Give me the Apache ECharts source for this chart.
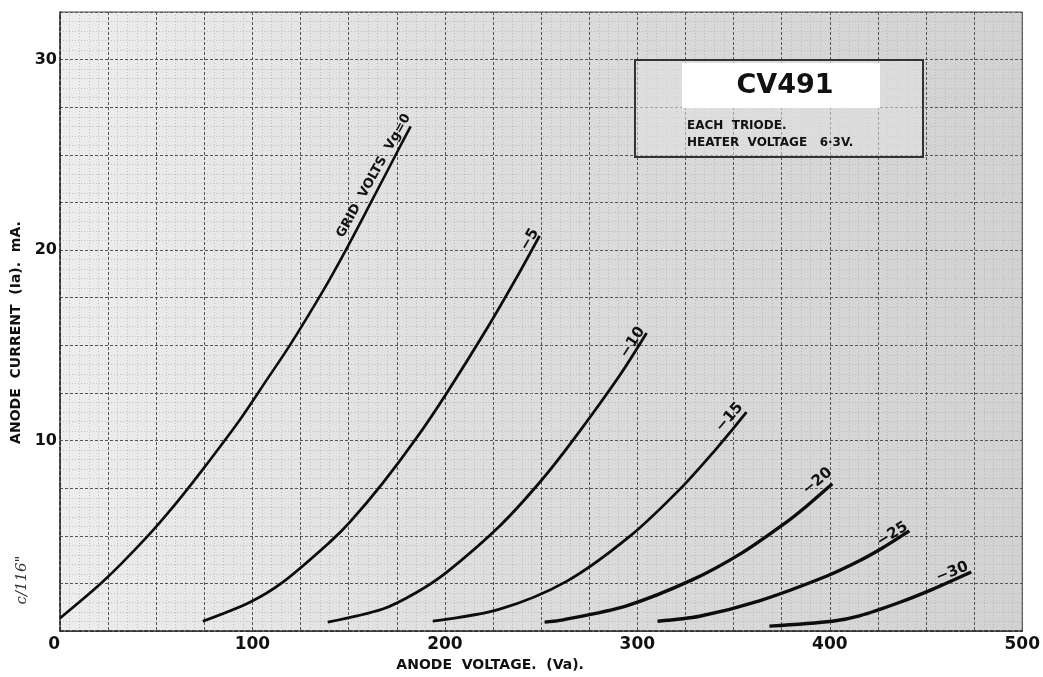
<!DOCTYPE html>
<html>
<head>
<meta charset="utf-8">
<script src="https://cdn.jsdelivr.net/npm/echarts@6/dist/echarts.min.js"></script>
<style>
html,body{margin:0;padding:0;background:#fff;}
#chart{width:1043px;height:677px;}
</style>
</head>
<body>
<div id="chart"></div>
<script>
// ---- data (anode voltage V, anode current mA) ----
const gridVoltLabels = ['GRID  VOLTS  Vg=0', '−5', '−10', '−15', '−20', '−25', '−30'];
const curveVg0   = [[0,0.68],[22.3,2.6],[45.2,4.95],[60.7,6.76],[74.2,8.49],[93.5,11.1],[107.5,13.2],[119.4,15.0],[136.6,17.85],[146.9,19.7],[160,22.2],[176.5,25.4],[182.2,26.5]];
const curveVg5   = [[74.2,0.52],[98.7,1.52],[115.8,2.57],[140.2,4.67],[150.6,5.72],[167.7,7.77],[185.4,10.16],[200.9,12.49],[221.7,15.86],[237.3,18.57],[249.2,20.75]];
const curveVg10  = [[139.1,0.47],[167.7,1.16],[185.4,2.04],[201.5,3.14],[228.5,5.52],[249.2,7.8],[266.4,10.0],[290.8,13.42],[304.8,15.65]];
const curveVg15  = [[193.7,0.52],[228.5,1.15],[263.2,2.61],[296,4.97],[322,7.44],[341.1,9.58],[349.4,10.58],[356.7,11.49]];
const curveVg20  = [[251.8,0.47],[259.6,0.56],[294.4,1.33],[328.7,2.7],[354.6,4.12],[377.5,5.72],[385.8,6.38],[401.3,7.74]];
const curveVg25  = [[310.5,0.52],[332.3,0.78],[363.4,1.59],[398.2,2.88],[415.4,3.69],[427.3,4.36],[441.3,5.26]];
const curveVg30  = [[368.6,0.26],[401.3,0.52],[415.4,0.8],[436.1,1.5],[453.3,2.19],[473.5,3.1]];
// label anchor points in data units [V, mA]
const labelAnchors = [[163.0,23.9],[244.0,20.55],[297.5,15.15],[347.9,11.22],[393.6,7.86],[432.5,5.08],[463.6,3.09]];
const labelAngles  = [61, 60, 57, 49, 40, 32, 22];
const xTickLabels = [0,100,200,300,400,500];
const yTickLabels = [10,20,30];
const curves = [curveVg0, curveVg5, curveVg10, curveVg15, curveVg20, curveVg25, curveVg30];
const lineWidths = [2.6, 2.8, 2.8, 2.8, 3.4, 3.4, 3.4];

const FONT = 'DejaVu Sans';
const chart = echarts.init(document.getElementById('chart'), null, {renderer:'canvas'});

const series = curves.map((c, i) => ({
  type: 'line',
  data: c,
  smooth: 0.3,
  showSymbol: false,
  symbol: 'none',
  z: 5,
  lineStyle: {color: '#0d0d0d', width: lineWidths[i]},
  markPoint: {
    silent: true,
    symbol: 'circle',
    symbolSize: 0,
    data: [{coord: labelAnchors[i], value: gridVoltLabels[i]}],
    label: {
      show: true,
      position: 'inside',
      formatter: gridVoltLabels[i],
      rotate: labelAngles[i],
      fontFamily: FONT,
      fontWeight: 'bold',
      fontSize: i === 0 ? 13 : 15,
      color: '#111'
    }
  }
}));

const option = {
  animation: false,
  backgroundColor: '#ffffff',
  grid: {
    left: 60, right: 20, top: 12, bottom: 45,
    show: true,
    borderColor: '#444',
    borderWidth: 1,
    backgroundColor: new echarts.graphic.LinearGradient(0, 0, 1, 0, [
      {offset: 0, color: '#ededed'},
      {offset: 0.5, color: '#dcdcdc'},
      {offset: 1, color: '#d2d2d2'}
    ])
  },
  xAxis: {
    type: 'value', min: 0, max: 500, interval: 25,
    name: 'ANODE  VOLTAGE.  (Va).',
    nameLocation: 'middle', nameGap: 25,
    nameTextStyle: {fontFamily: FONT, fontWeight: 'bold', fontSize: 14, color: '#111', padding: [0, 102, 0, 0]},
    axisLine: {show: true, lineStyle: {color: '#222', width: 1.5, type: [4, 2]}},
    axisTick: {show: false},
    axisLabel: {
      formatter: v => xTickLabels.includes(v) ? String(v) : '',
      fontFamily: FONT, fontWeight: 'bold', fontSize: 17, color: '#111', margin: 5,
      alignMinLabel: 'right'
    },
    splitLine: {show: true, lineStyle: {color: '#555', width: 1, type: [3, 2]}},
    minorTick: {show: false, splitNumber: 5},
    minorSplitLine: {show: true, lineStyle: {color: '#b0b0b0', width: 0.7, type: [1, 2]}}
  },
  yAxis: {
    type: 'value', min: 0, max: 32.5, interval: 2.5,
    name: 'ANODE  CURRENT  (Ia).  mA.',
    nameLocation: 'middle', nameGap: 33,
    nameTextStyle: {fontFamily: FONT, fontWeight: 'bold', fontSize: 14, color: '#111', padding: [0, 22, 0, 0]},
    axisLine: {show: true, lineStyle: {color: '#222', width: 1.5, type: [4, 2]}},
    axisTick: {show: false},
    axisLabel: {
      formatter: v => yTickLabels.includes(v) ? String(v) : '',
      fontFamily: FONT, fontWeight: 'bold', fontSize: 16, color: '#111', margin: 3
    },
    splitLine: {show: true, lineStyle: {color: '#555', width: 1, type: [3, 2]}},
    minorTick: {show: false, splitNumber: 5},
    minorSplitLine: {show: true, lineStyle: {color: '#b0b0b0', width: 0.7, type: [1, 2]}}
  },
  series: series,
  graphic: [
    {type: 'rect', z: 10, shape: {x: 635, y: 60, width: 288, height: 97},
     style: {fill: 'rgba(225,225,225,0.55)', stroke: '#333', lineWidth: 2}},
    {type: 'rect', z: 11, shape: {x: 682, y: 63, width: 198, height: 45},
     style: {fill: '#ffffff', stroke: null}},
    {type: 'text', z: 12, x: 785, y: 86,
     style: {text: 'CV491', fill: '#111', font: 'bold 27px "DejaVu Sans"', textAlign: 'center', textVerticalAlign: 'middle', align: 'center', verticalAlign: 'middle'}},
    {type: 'text', z: 12, x: 687, y: 126,
     style: {text: 'EACH  TRIODE.', fill: '#111', font: 'bold 12px "DejaVu Sans"', textVerticalAlign: 'middle', verticalAlign: 'middle'}},
    {type: 'text', z: 12, x: 687, y: 143,
     style: {text: 'HEATER  VOLTAGE   6·3V.', fill: '#111', font: 'bold 12px "DejaVu Sans"', textVerticalAlign: 'middle', verticalAlign: 'middle'}},
    {type: 'text', z: 12, x: 22, y: 580, rotation: Math.PI / 2,
     style: {text: 'c/116"', fill: '#333', font: 'italic 15px "DejaVu Serif"', textAlign: 'center', align: 'center', textVerticalAlign: 'middle', verticalAlign: 'middle'}}
  ]
};
chart.setOption(option);
</script>
</body>
</html>
